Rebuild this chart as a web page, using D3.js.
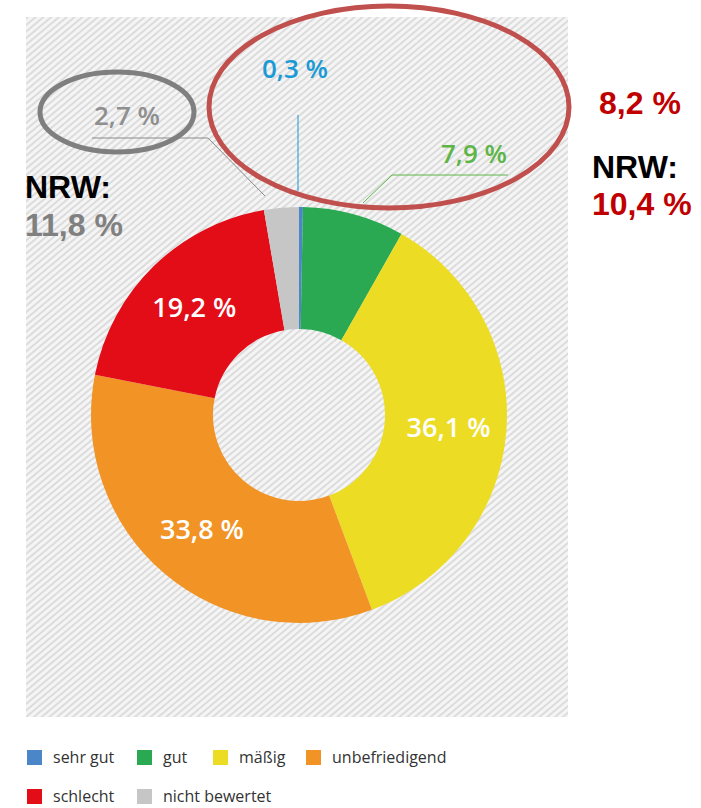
<!DOCTYPE html>
<html>
<head>
<meta charset="utf-8">
<script src="https://cdn.jsdelivr.net/npm/d3@7"></script>
<style>
  body { margin: 0; background: #fff; }
  svg { display: block; }
</style>
</head>
<body>
<svg id="chart" width="701" height="808"></svg>
<script>
// data
const categories = ["sehr gut", "gut", "mäßig", "unbefriedigend", "schlecht", "nicht bewertet"];
const values = [0.3, 7.9, 36.1, 33.8, 19.2, 2.7];
const labels = ["0,3 %", "7,9 %", "36,1 %", "33,8 %", "19,2 %", "2,7 %"];
const colors = ["#4a86c8", "#2aa952", "#ecdc24", "#f29325", "#e30d18", "#c6c6c6"];
const labelColors = ["#1a9ad6", "#5db547", "#fff", "#fff", "#fff", "#8f8f8f"];

const svg = d3.select("#chart");
const width = 701, height = 808;

const panel = { x: 26, y: 17, w: 542, h: 700 };
const cx = 299, cy = 415;
const outerR = 208, innerR = 86;

// hatched background
const defs = svg.append("defs");
const pat = defs.append("pattern")
  .attr("id", "hatch")
  .attr("patternUnits", "userSpaceOnUse")
  .attr("width", 5)
  .attr("height", 5)
  .attr("patternTransform", "rotate(-40)");
pat.append("rect").attr("width", 5).attr("height", 5).attr("fill", "#f5f5f5");
pat.append("rect").attr("width", 5).attr("height", 2).attr("fill", "#dcdcdc");

svg.append("rect")
  .attr("x", panel.x).attr("y", panel.y)
  .attr("width", panel.w).attr("height", panel.h)
  .attr("fill", "url(#hatch)");

// donut
const data = categories.map((c, i) => ({ cat: c, value: values[i], label: labels[i], color: colors[i], lc: labelColors[i] }));
const pie = d3.pie().value(d => d.value).sort(null);
const arcs = pie(data);
const arc = d3.arc().innerRadius(innerR).outerRadius(outerR);
const labelArc = d3.arc().innerRadius(150).outerRadius(150);

const g = svg.append("g").attr("transform", `translate(${cx},${cy})`);

g.selectAll("path")
  .data(arcs)
  .enter()
  .append("path")
  .attr("d", arc)
  .attr("fill", d => d.data.color);

const font = "'Open Sans', sans-serif";

// labels inside the ring
g.selectAll("text.inner")
  .data(arcs.filter(d => d.value > 10))
  .enter()
  .append("text")
  .attr("class", "inner")
  .attr("transform", d => `translate(${labelArc.centroid(d)})`)
  .attr("text-anchor", "middle")
  .attr("dy", "0.36em")
  .attr("font-family", font)
  .attr("font-weight", 600)
  .attr("font-size", "27px")
  .attr("fill", d => d.data.lc)
  .text(d => d.data.label);

// outer labels with leader lines (positions of callouts)
const callouts = {
  "sehr gut": { text: [295, 78], line: [[298, 115], [298, 191]] },
  "gut": { text: [474, 163], line: [[508, 175], [392, 175], [363, 203]] },
  "nicht bewertet": { text: [127, 125], line: [[92, 138], [208, 138], [265, 196]] }
};

arcs.filter(d => callouts[d.data.cat]).forEach(d => {
  const c = callouts[d.data.cat];
  svg.append("path")
    .attr("d", d3.line()(c.line))
    .attr("fill", "none")
    .attr("stroke", d.data.lc === "#8f8f8f" ? "#8a8a8a" : d.data.lc)
    .attr("stroke-width", 1);
  svg.append("text")
    .attr("x", c.text[0])
    .attr("y", c.text[1])
    .attr("text-anchor", "middle")
    .attr("font-family", font)
    .attr("font-weight", 600)
    .attr("font-size", "26px")
    .attr("fill", d.data.lc)
    .text(d.data.label);
});

// annotation ellipses
svg.append("ellipse")
  .attr("cx", 117).attr("cy", 112).attr("rx", 77).attr("ry", 40)
  .attr("fill", "none").attr("stroke", "#7f7f7f").attr("stroke-width", 5);

svg.append("ellipse")
  .attr("cx", 389).attr("cy", 107).attr("rx", 180).attr("ry", 101)
  .attr("fill", "none").attr("stroke", "#c0504d").attr("stroke-width", 5);

// NRW annotations
const ann = svg.append("g")
  .attr("font-family", "Arial, 'Liberation Sans', sans-serif")
  .attr("font-weight", "bold")
  .attr("font-size", "32px");

ann.append("text").attr("x", 25).attr("y", 198).attr("fill", "#000").text("NRW:");
ann.append("text").attr("x", 25).attr("y", 236).attr("fill", "#808080").text("11,8 %");
ann.append("text").attr("x", 599).attr("y", 114).attr("fill", "#c00000").text("8,2 %");
ann.append("text").attr("x", 592).attr("y", 178).attr("fill", "#000").text("NRW:");
ann.append("text").attr("x", 592).attr("y", 215).attr("fill", "#c00000").text("10,4 %");

// legend
const legendPos = [[27, 750], [137, 750], [213, 750], [306, 750], [27, 789], [137, 789]];
const legend = svg.append("g");
const item = legend.selectAll("g")
  .data(data)
  .enter()
  .append("g")
  .attr("transform", (d, i) => `translate(${legendPos[i][0]},${legendPos[i][1]})`);

item.append("rect")
  .attr("width", 15)
  .attr("height", 15)
  .attr("fill", d => d.color);

item.append("text")
  .attr("x", 26)
  .attr("y", 13)
  .attr("font-family", font)
  .attr("font-size", "16px")
  .attr("fill", "#333")
  .text(d => d.cat);
</script>
</body>
</html>
